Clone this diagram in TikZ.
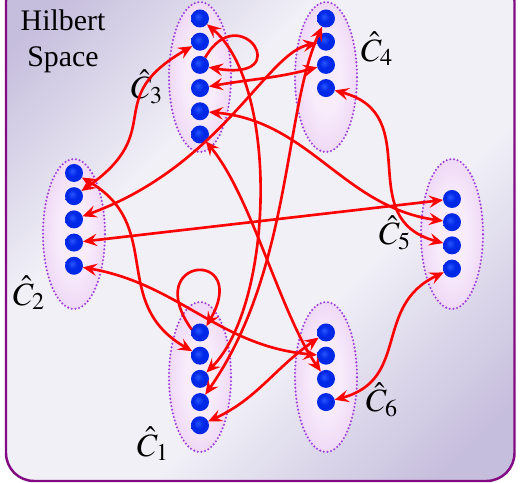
\documentclass[tikz,border=0pt]{standalone}
\usepackage{mathptmx}
\usepackage[no-math]{fontspec}
\setmainfont{Liberation Serif}
\usetikzlibrary{arrows.meta,shapes.geometric}
\definecolor{framedark}{RGB}{198,190,221}
\definecolor{framelight}{RGB}{241,240,247}
\definecolor{framepurple}{RGB}{130,10,130}
\definecolor{clusterin}{RGB}{248,236,251}
\definecolor{clusterout}{RGB}{222,182,236}
\definecolor{clusterrim}{RGB}{160,60,220}
\definecolor{dotlight}{RGB}{40,85,255}
\definecolor{dotmid}{RGB}{0,40,230}
\definecolor{dotdark}{RGB}{0,18,140}
\pgfdeclareverticalshading{frameshade}{100bp}{color(0bp)=(framedark); color(20bp)=(framedark); color(40bp)=(framelight); color(62bp)=(framelight); color(80bp)=(framedark); color(100bp)=(framedark)}
\pgfdeclareradialshading{clustershade}{\pgfpoint{0bp}{0bp}}{color(0bp)=(clusterin); color(12bp)=(clusterin); color(50bp)=(clusterout)}
\pgfdeclareradialshading{dotshade}{\pgfpoint{-6bp}{6bp}}{color(0bp)=(dotlight); color(14bp)=(dotmid); color(30bp)=(dotmid); color(58bp)=(dotdark)}

\begin{document}
\begin{tikzpicture}[x=0.02cm,y=0.02cm]
\tikzstyle{cluster}=[ellipse, minimum width=1.24cm, minimum height=3cm, inner sep=0pt, shading=clustershade, draw=clusterrim, line width=1.3pt, line cap=round, dash pattern=on 0pt off 2.1pt]
\tikzstyle{dot}=[circle, minimum size=0.36cm, inner sep=0pt, outer sep=0pt, shading=dotshade]
\tikzstyle{lab}=[inner sep=0pt, font=\fontsize{18.5}{22}\selectfont]
\tikzstyle{conn}=[draw=red, line width=1.5pt, >={Stealth[length=8pt,width=7pt,inset=3pt]}, <->]
\tikzstyle{loopconn}=[conn, ->]
\useasboundingbox (0,0) rectangle (522,483);
\clip (0,0) rectangle (522,483);
% frame
\draw[draw=framepurple, line width=1.4pt, rounded corners=0.56cm, shading=frameshade, shading angle=45] (6,2) rectangle (514.5,510);
\node[inner sep=0pt, align=center, font=\fontsize{17}{20.5}\selectfont] (hs) at (63,441.5) {Hilbert\\Space};
% clusters
\node[cluster] (C3) at (200,406) {};
\node[cluster] (C4) at (326,406) {};
\node[cluster] (C2) at (74,249) {};
\node[cluster] (C5) at (452,249) {};
\node[cluster] (C1) at (200,106) {};
\node[cluster] (C6) at (326,106) {};
\foreach \i in {1,...,6} \node[dot] (c3-\i) at (200,{464.5-23.2*(\i-1)}) {};
\foreach \i in {1,...,4} \node[dot] (c4-\i) at (326,{464.5-23.2*(\i-1)}) {};
\foreach \i in {1,...,5} \node[dot] (c2-\i) at (74,{310-23.2*(\i-1)}) {};
\foreach \i in {1,...,4} \node[dot] (c5-\i) at (452,{284-23.2*(\i-1)}) {};
\foreach \i in {1,...,5} \node[dot] (c1-\i) at (200,{150.5-23.2*(\i-1)}) {};
\foreach \i in {1,...,4} \node[dot] (c6-\i) at (326,{150.5-23.2*(\i-1)}) {};
% labels
\node[lab] (l3) at (147,396) {$\hat{C}_3$};
\node[lab] (l4) at (377,434) {$\hat{C}_4$};
\node[lab] (l2) at (29,190) {$\hat{C}_2$};
\node[lab] (l5) at (395,250) {$\hat{C}_5$};
\node[lab] (l1) at (153,39) {$\hat{C}_1$};
\node[lab] (l6) at (382,83) {$\hat{C}_6$};
% transitions
\draw[conn] (c2-2) to[out=35,in=210,looseness=1.5] (c3-2);
\draw[loopconn] (c3-3.55) .. controls +(60:70) and +(-10:90) .. (c3-3.-15);
\draw[conn] (c3-4) to[out=10,in=195] (c4-3);
\draw[conn] (c2-3) to[out=20,in=190,out looseness=1.3,in looseness=0.45] (c4-2);
\draw[conn] (c3-1) to[out=-40,in=45,looseness=0.7] (c1-3);
\draw[conn] (c3-6) to[out=-50,in=125,looseness=0.7] (c6-3);
\draw[conn] (c3-5) to[out=-5,in=172] (c5-2);
\draw[conn] (c4-4) to[out=-15,in=165,looseness=1.3] (c5-3);
\draw[conn] (c5-1) -- (c2-4);
\draw[conn] (c5-4) to[out=205,in=15,looseness=1.2] (c6-4);
\draw[conn] (c2-1) to[out=-30,in=150,looseness=1.2] (c1-2);
\draw[conn] (c2-5) to[out=-10,in=175] (c6-2);
\draw[loopconn] (c1-1.160) .. controls +(125:90) and +(60:90) .. (c1-1.45);
\draw[conn] (c1-4) to[out=55,in=-115,out looseness=1,in looseness=0.6] (c4-1);
\draw[conn] (c1-5) to[out=25,in=215] (c6-1);
\end{tikzpicture}
\end{document}
